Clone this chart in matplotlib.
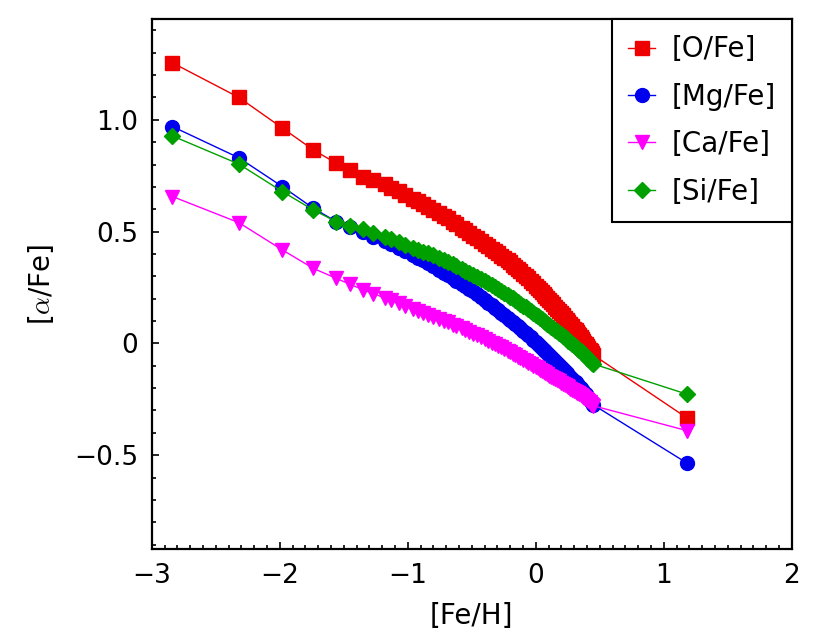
import matplotlib
matplotlib.use('Agg')
import matplotlib.pyplot as plt
from matplotlib.ticker import MultipleLocator, FixedLocator

plt.rcParams['font.family'] = ['DejaVu Sans']
plt.rcParams['mathtext.fontset'] = 'cm'

# [Fe/H] of the model steps (shared by all elements)
fe_h = [-2.84, -2.32, -1.98, -1.74, -1.56, -1.45, -1.35,
        -1.27, -1.18, -1.13, -1.07, -1.02, -0.96, -0.92, -0.88, -0.84, -0.80,
        -0.76, -0.72, -0.69, -0.65, -0.62, -0.58, -0.55, -0.52, -0.49, -0.46,
        -0.43, -0.40, -0.37, -0.345, -0.32, -0.295, -0.27, -0.245, -0.22, -0.20,
        -0.18, -0.16, -0.14, -0.12, -0.10, -0.08, -0.06, -0.04, -0.02, 0.00,
        0.015, 0.03, 0.045, 0.06, 0.075, 0.09, 0.105, 0.12, 0.135, 0.15,
        0.165, 0.18, 0.195, 0.21, 0.225, 0.24, 0.255, 0.27, 0.285, 0.30,
        0.31, 0.32, 0.33, 0.34, 0.35, 0.36, 0.37, 0.38, 0.39, 0.40,
        0.41, 0.42, 0.43, 0.44, 0.45, 1.18]

o_fe = [1.255, 1.100, 0.963, 0.866, 0.806, 0.776, 0.746,
        0.731, 0.711, 0.697, 0.681, 0.664, 0.647, 0.635, 0.623, 0.610, 0.598,
        0.585, 0.571, 0.560, 0.545, 0.533, 0.518, 0.506, 0.494, 0.482, 0.470,
        0.458, 0.446, 0.434, 0.424, 0.414, 0.404, 0.393, 0.382, 0.371, 0.362,
        0.352, 0.342, 0.332, 0.322, 0.312, 0.302, 0.291, 0.280, 0.269, 0.258,
        0.249, 0.240, 0.231, 0.222, 0.213, 0.203, 0.194, 0.184, 0.175, 0.165,
        0.155, 0.145, 0.135, 0.125, 0.115, 0.105, 0.095, 0.085, 0.076, 0.066,
        0.059, 0.051, 0.043, 0.036, 0.028, 0.020, 0.012, 0.004, -0.004, -0.012,
        -0.020, -0.028, -0.036, -0.044, -0.052, -0.333]

mg_fe = [0.970, 0.830, 0.701, 0.605, 0.545, 0.520, 0.500,
         0.478, 0.456, 0.443, 0.427, 0.413, 0.396, 0.384, 0.372, 0.358, 0.344,
         0.330, 0.316, 0.306, 0.292, 0.281, 0.267, 0.256, 0.245, 0.233, 0.221,
         0.208, 0.195, 0.182, 0.171, 0.160, 0.149, 0.138, 0.126, 0.115, 0.106,
         0.096, 0.087, 0.077, 0.067, 0.057, 0.047, 0.037, 0.027, 0.016, 0.005,
         -0.003, -0.011, -0.019, -0.028, -0.036, -0.044, -0.053, -0.061, -0.070, -0.078,
         -0.087, -0.095, -0.104, -0.113, -0.122, -0.131, -0.140, -0.149, -0.158, -0.167,
         -0.173, -0.180, -0.186, -0.193, -0.200, -0.207, -0.214, -0.221, -0.228, -0.236,
         -0.243, -0.251, -0.259, -0.267, -0.275, -0.535]

ca_fe = [0.657, 0.540, 0.418, 0.336, 0.291, 0.264, 0.240,
         0.223, 0.203, 0.192, 0.179, 0.169, 0.156, 0.147, 0.138, 0.129, 0.120,
         0.111, 0.101, 0.094, 0.084, 0.077, 0.067, 0.059, 0.052, 0.044, 0.036,
         0.028, 0.020, 0.011, 0.004, -0.003, -0.010, -0.018, -0.025, -0.033, -0.039,
         -0.046, -0.053, -0.060, -0.067, -0.073, -0.080, -0.087, -0.094, -0.101, -0.107,
         -0.112, -0.117, -0.123, -0.128, -0.133, -0.138, -0.144, -0.149, -0.154, -0.159,
         -0.165, -0.170, -0.175, -0.180, -0.186, -0.191, -0.196, -0.202, -0.207, -0.212,
         -0.216, -0.220, -0.224, -0.228, -0.232, -0.236, -0.240, -0.244, -0.249, -0.254,
         -0.259, -0.264, -0.269, -0.274, -0.279, -0.390]

si_fe = [0.928, 0.802, 0.679, 0.597, 0.545, 0.525, 0.510,
         0.492, 0.475, 0.465, 0.452, 0.441, 0.428, 0.419, 0.411, 0.403, 0.395,
         0.383, 0.372, 0.364, 0.353, 0.345, 0.333, 0.324, 0.315, 0.306, 0.297,
         0.288, 0.278, 0.268, 0.260, 0.252, 0.243, 0.235, 0.226, 0.216, 0.209,
         0.202, 0.193, 0.185, 0.177, 0.169, 0.161, 0.153, 0.145, 0.136, 0.128,
         0.121, 0.115, 0.108, 0.101, 0.095, 0.088, 0.081, 0.075, 0.068, 0.061,
         0.054, 0.048, 0.041, 0.034, 0.027, 0.020, 0.013, 0.006, -0.002, -0.009,
         -0.014, -0.019, -0.024, -0.029, -0.034, -0.040, -0.045, -0.050, -0.056, -0.062,
         -0.068, -0.074, -0.080, -0.086, -0.092, -0.227]

fig = plt.figure(figsize=(8.3, 6.4), dpi=100)
ax = fig.add_axes([0.183, 0.142, 0.771, 0.828])

ax.plot(fe_h, o_fe, color='#ee0000', marker='s', ms=10, lw=1, label='[O/Fe]')
ax.plot(fe_h, mg_fe, color='#0000ee', marker='o', ms=10, lw=1, label='[Mg/Fe]')
ax.plot(fe_h, ca_fe, color='#ff00ff', marker='v', ms=10.5, lw=1, label='[Ca/Fe]')
ax.plot(fe_h, si_fe, color='#00a000', marker='D', ms=8, lw=1, label='[Si/Fe]')

ax.set_xlim(-3, 2)
ax.set_ylim(-0.92, 1.45)
ax.xaxis.set_major_locator(MultipleLocator(1))
ax.xaxis.set_minor_locator(MultipleLocator(0.1))
ax.yaxis.set_major_locator(FixedLocator([-0.5, 0, 0.5, 1.0]))
ax.set_yticklabels(['\u22120.5', '0', '0.5', '1.0'])
ax.yaxis.set_minor_locator(MultipleLocator(0.1))
ax.tick_params(which='both', direction='in', top=False, right=False,
               labelsize=19, width=1.2, pad=10)
ax.tick_params(which='major', length=5)
ax.tick_params(which='minor', length=3)
for sp in ax.spines.values():
    sp.set_linewidth(1.6)

ax.set_xlabel('[Fe/H]', fontsize=20, labelpad=9)
ax.set_ylabel(r'[$\alpha$/Fe]', fontsize=20, labelpad=13)

leg = ax.legend(loc='upper right', borderaxespad=0, fontsize=20,
                fancybox=False, framealpha=1, edgecolor='black',
                handlelength=0.97, handletextpad=0.58, labelspacing=0.7,
                borderpad=0.58)
leg.get_frame().set_linewidth(1.5)

fig.savefig('out.png', dpi=100)
